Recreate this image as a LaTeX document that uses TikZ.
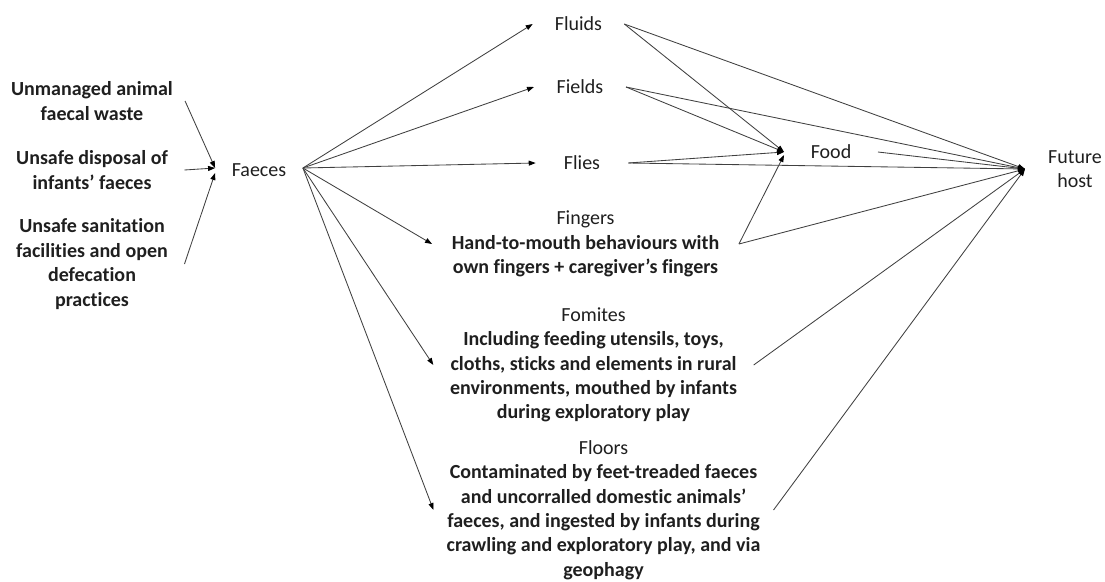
\documentclass[tikz,border=0pt]{standalone}
\usepackage{fontspec}
\setmainfont{Carlito}[Ligatures={TeX,NoCommon}]
\usetikzlibrary{arrows.meta}
\begin{document}
\begin{tikzpicture}[x=1pt,y=1pt,
  every node/.style={font=\fontsize{20}{24.4}\selectfont, text=black!88, inner ysep=0pt, align=center},
  cause/.style={font=\fontsize{20}{24.4}\selectfont\bfseries},
  link/.style={draw=black!75, line width=0.85pt, -{Triangle[length=7pt,width=5pt,color=black]}}
]
\useasboundingbox (0,0) rectangle (1105,-581);

% sources of faecal contamination
\node[cause, inner xsep=12pt]   (unmanaged)  at (92,-101) {Unmanaged animal\\faecal waste};
\node[cause, inner xsep=16.5pt] (disposal)   at (92,-170) {Unsafe disposal of\\infants’ faeces};
\node[cause, inner xsep=16.5pt] (sanitation) at (92,-264) {Unsafe sanitation\\facilities and open\\defecation\\practices};

\node[inner xsep=16.5pt] (faeces) at (259,-170) {Faeces};

% the F-diagram pathways
\node[inner xsep=22pt]   (fluids) at (578.5,-24) {Fluids};
\node[inner xsep=22.5pt] (fields) at (580,-87)   {Fields};
\node[inner xsep=28pt]   (flies)  at (582,-163)  {Flies};
\node[inner xsep=19.5pt] (fingers) at (585.5,-244)
  {Fingers\\\textbf{Hand-to-mouth behaviours with}\\\textbf{own fingers + caregiver’s fingers}};
\node[inner xsep=16.5pt] (fomites) at (593.5,-365)
  {Fomites\\\textbf{Including feeding utensils, toys,}\\\textbf{cloths, sticks and elements in rural}\\\textbf{environments, mouthed by infants}\\\textbf{during exploratory play}};
\node[inner xsep=13pt] (floors) at (603.5,-510)
  {Floors\\\textbf{Contaminated by feet-treaded faeces}\\\textbf{and uncorralled domestic animals’}\\\textbf{faeces, and ingested by infants during}\\\textbf{crawling and exploratory play, and via}\\\textbf{geophagy}};

\node[inner xsep=26.5pt] (food) at (831,-152) {Food};
\node[inner xsep=23pt]   (host) at (1075,-169) {Future\\host};

% sources into faeces
\draw[link] (unmanaged.east)  -- ([yshift=2pt]faeces.west);
\draw[link] (disposal.east)   -- ([yshift=2pt]faeces.west);
\draw[link] (sanitation.east) -- ([yshift=-3pt]faeces.west);

% faeces out to each pathway
\coordinate (faeces-out) at ([yshift=2pt]faeces.east);
\foreach \t in {fluids,fields,flies,fingers,fomites,floors}
  \draw[link] (faeces-out) -- (\t.west);

% pathways into food
\foreach \s in {fluids,fields,flies}
  \draw[link] (\s.east) -- (food.west);
\draw[link] (fingers.east) -- ([yshift=-3pt]food.west);

% pathways into the future host
\foreach \s in {fluids,fields,flies,food,fingers,fomites,floors}
  \draw[link] (\s.east) -- (host.west);
\end{tikzpicture}
\end{document}
